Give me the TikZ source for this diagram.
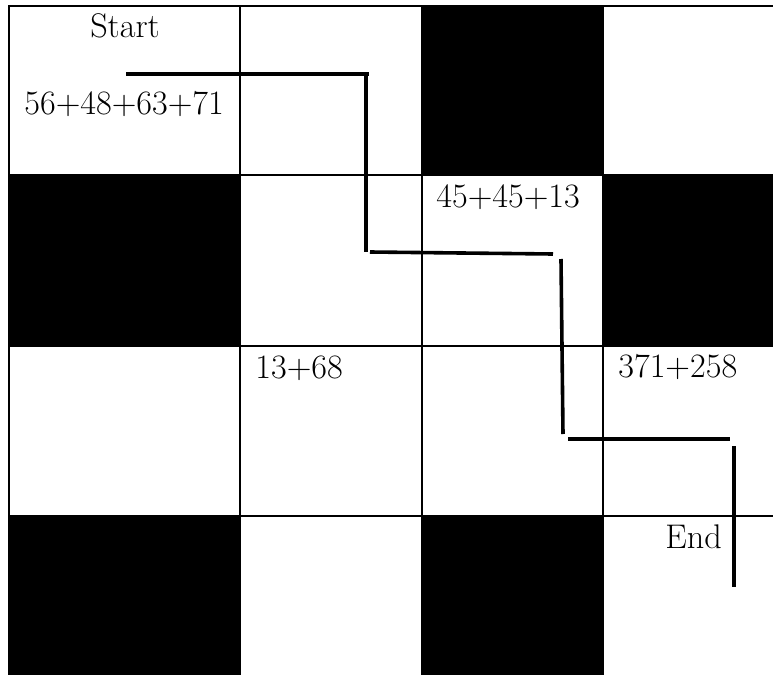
\documentclass[tikz,border=0pt]{standalone}
\begin{document}
\begin{tikzpicture}[x=0.5pt,y=-0.5pt,
  gridline/.style={line width=0.85pt},
  blackcell/.style={fill=black},
  route/.style={line width=1.8pt},
  lbl/.style={anchor=base west,inner sep=0pt,font=\fontsize{17.1}{20.5}\selectfont}]
\useasboundingbox (0,0) rectangle (773,675);
\clip (0,0) rectangle (773,675);
% grid
\draw[gridline] (9,6) rectangle (790,690);
\foreach \x in {240,422,603} \draw[gridline] (\x,6) -- (\x,690);
\foreach \y in {175,346,516} \draw[gridline] (9,\y) -- (790,\y);
% black cells
\fill[blackcell] (422,6) rectangle (603,175);
\fill[blackcell] (9,175) rectangle (240,346);
\fill[blackcell] (603,175) rectangle (790,346);
\fill[blackcell] (9,516) rectangle (240,690);
\fill[blackcell] (422,516) rectangle (603,690);
% labels
\node[lbl,anchor=base] (start) at (125,37) {Start};
\node[lbl] (e1) at (24,114) {56+48+63+71};
\node[lbl] (e2) at (436,207) {45+45+13};
\node[lbl] (e3) at (255,378) {13+68};
\node[lbl] (e4) at (618,377) {371+258};
\node[lbl] (endl) at (665,548) {End};
% route segments
\coordinate (a1) at (126,74);  \coordinate (a2) at (369,74);
\coordinate (b1) at (366,72);  \coordinate (b2) at (366,252);
\coordinate (c1) at (370,252); \coordinate (c2) at (553,254);
\coordinate (d1) at (561,259); \coordinate (d2) at (563,434);
\coordinate (f1) at (568,439); \coordinate (f2) at (730,439);
\coordinate (g1) at (734,446); \coordinate (g2) at (734,587);
\draw[route] (a1) -- (a2);
\draw[route] (b1) -- (b2);
\draw[route] (c1) -- (c2);
\draw[route] (d1) -- (d2);
\draw[route] (f1) -- (f2);
\draw[route] (g1) -- (g2);
\end{tikzpicture}
\end{document}
